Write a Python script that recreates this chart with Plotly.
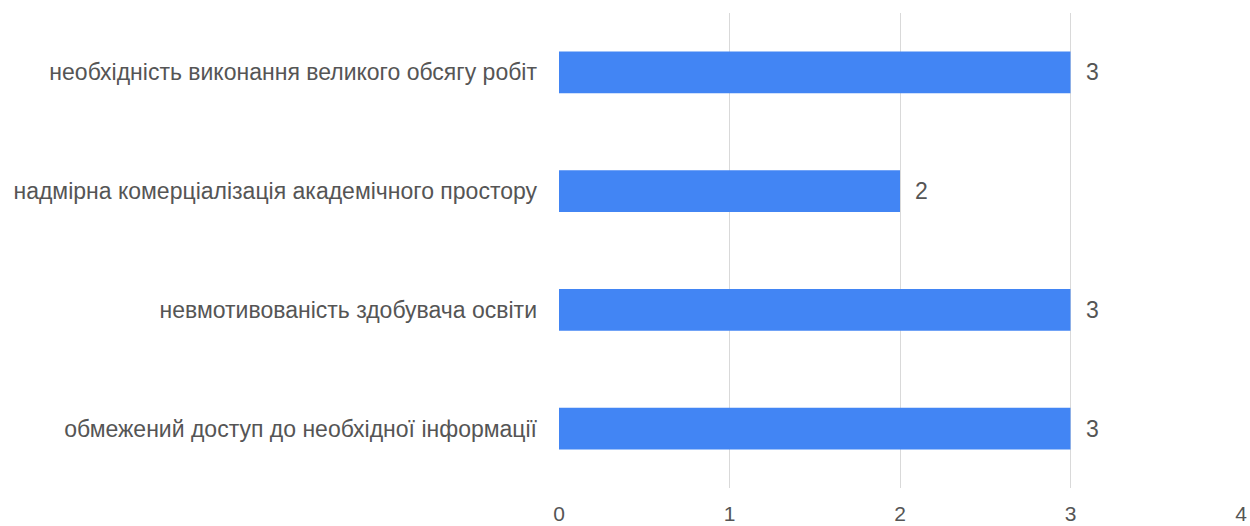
import plotly.graph_objects as go

categories = [
    "необхідність виконання великого обсягу робіт",
    "надмірна комерціалізація академічного простору",
    "невмотивованість здобувача освіти",
    "обмежений доступ до необхідної інформації",
]
values = [3, 2, 3, 3]
x_ticks = [0, 1, 2, 3, 4]

font_family = "Liberation Sans, Arial, sans-serif"
text_color = "#555555"
fs = 23

fig = go.Figure()
fig.add_trace(go.Bar(
    x=values,
    y=categories,
    orientation="h",
    marker=dict(color="#4285F4", line=dict(width=0)),
    hoverinfo="x+y",
))

for v, c in zip(values, categories):
    fig.add_annotation(
        x=v, y=c, text=str(v), showarrow=False,
        xanchor="left", xshift=13,
        font=dict(family=font_family, size=fs, color=text_color),
    )

fig.update_layout(
    width=1250, height=526,
    margin=dict(l=559, r=9, t=13, b=38, autoexpand=False),
    paper_bgcolor="white",
    plot_bgcolor="white",
    bargap=0.647,
    showlegend=False,
    font=dict(family=font_family, size=fs, color=text_color),
)
fig.update_xaxes(
    range=[0, 4],
    tickvals=x_ticks,
    ticktext=[str(t) for t in x_ticks],
    showgrid=True, gridcolor="#d9d9d9", gridwidth=1,
    zeroline=False, showline=False,
    ticklabelstandoff=11,
    tickfont=dict(family=font_family, size=21, color=text_color),
    fixedrange=True,
)
fig.update_yaxes(
    autorange="reversed",
    showgrid=False, zeroline=False, showline=False,
    ticklabelstandoff=21,
    tickfont=dict(family=font_family, size=fs, color=text_color),
    fixedrange=True,
)

fig.write_html(
    "out.html",
    config={"displayModeBar": False},
    post_script="document.body.style.margin='0';document.body.style.padding='0';",
)
